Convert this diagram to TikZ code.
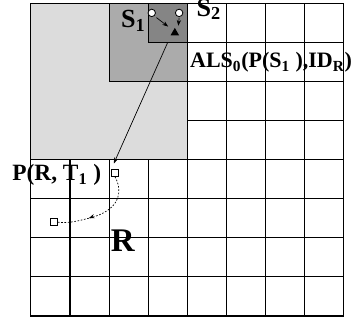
\documentclass[tikz,border=0pt]{standalone}
\usepackage{fontspec}
\setmainfont{Liberation Serif}
\usetikzlibrary{arrows.meta,shapes.geometric}
\definecolor{hell}{HTML}{DCDCDC}
\definecolor{mittel}{HTML}{ABABAB}
\definecolor{dunkel}{HTML}{858585}
\tikzset{
  gitter/.style={black,line width=0.8pt},
  feld/.style={draw=black,line width=0.8pt},
  knoten/.style={circle,draw=black,fill=white,line width=0.6pt,inner sep=0pt,minimum size=1.9mm},
  ziel/.style={isosceles triangle,isosceles triangle apex angle=60,shape border rotate=90,fill=black,inner sep=0pt,minimum height=1.9mm,minimum width=2.1mm},
  punkt/.style={rectangle,draw=black,fill=white,line width=0.5pt,inner sep=0pt,minimum size=1.8mm},
  pfeil/.style={-{Stealth[length=1.5mm,width=1.1mm]},line width=0.5pt},
  weg/.style={dash pattern=on 1.2pt off 1.2pt,line width=0.5pt},
  label/.style={font=\bfseries,inner sep=0pt},
}
\begin{document}
\begin{tikzpicture}[scale=1]
  \useasboundingbox (-0.79,-0.15) rectangle (8.21,8.08);
  \draw[gitter] (0,0) grid (8,8);
  \draw[feld,fill=hell] (0,4) rectangle (4,8);
  \draw[feld,fill=mittel] (2,6) rectangle (4,8);
  \draw[feld,fill=dunkel] (3,7) rectangle (4,8);
  \draw[gitter] (0,0) rectangle (8,8);
  \node[knoten] (s1) at (3.09,7.75) {};
  \node[knoten] (s2) at (3.79,7.75) {};
  \node[ziel] (t) at (3.68,7.24) {};
  \coordinate (e1) at (3.51,7.4);
  \coordinate (e2) at (3.77,7.42);
  \draw[pfeil] (s1) ++(-45:0.17) -- (e1);
  \draw[pfeil] (s2) ++(0,-0.13) -- (e2);
  \node[label,font=\bfseries\fontsize{19}{19}\selectfont] (ls1) at (2.62,7.55) {S\textsubscript{1}};
  \node[label,font=\bfseries\fontsize{19}{19}\selectfont] (ls2) at (4.55,7.84) {S\textsubscript{2}};
  \node[label,font=\bfseries\fontsize{16}{16}\selectfont] (als) at (6.14,6.48) {ALS\textsubscript{0}(P(S\textsubscript{1} ),ID\textsubscript{R})};
  \coordinate (start) at (3.5,7.0);
  \coordinate (ende) at (2.12,3.9);
  \draw[pfeil] (start) -- (ende);
  \node[punkt] (p) at (2.15,3.66) {};
  \node[punkt] (q) at (0.58,2.4) {};
  \coordinate (mitte) at (1.48,2.5);
  \draw[weg] (p.south) .. controls (2.35,3.2) and (2.3,2.7) .. (mitte);
  \draw[weg] (mitte) .. controls (1.1,2.4) and (0.9,2.37) .. (q.east);
  \draw[pfeil] (1.56,2.53) -- (mitte);
  \node[label,font=\bfseries\fontsize{17}{17}\selectfont] (lp) at (0.66,3.6) {P(R, T\textsubscript{1} )};
  \node[label,font=\bfseries\fontsize{24}{24}\selectfont] (lr) at (2.35,1.92) {R};
\end{tikzpicture}
\end{document}
